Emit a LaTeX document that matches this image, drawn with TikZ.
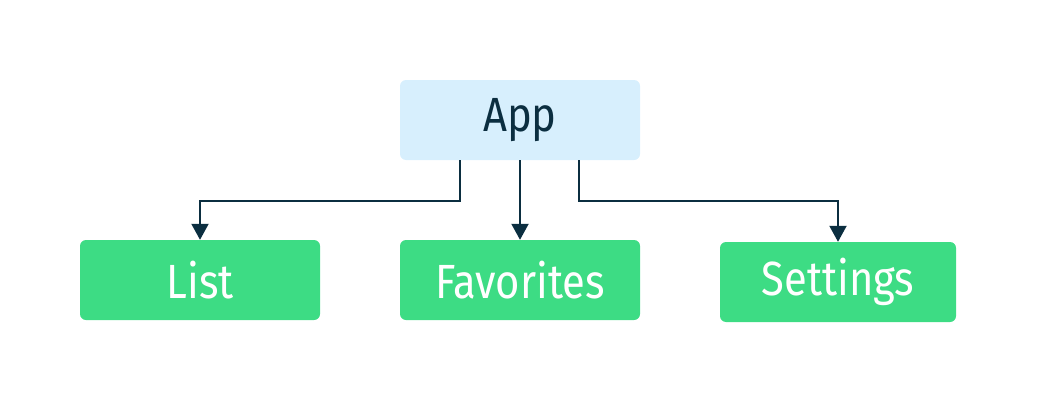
\documentclass[tikz,border=0pt]{standalone}
\usepackage{fontspec}
\setmainfont[FakeStretch=0.87]{Fira Sans}
\usetikzlibrary{arrows.meta}

\definecolor{navy}{HTML}{0B2E40}
\definecolor{appblue}{HTML}{D7EFFD}
\definecolor{droidgreen}{HTML}{3DDC84}

\tikzset{
  box/.style={rounded corners=6pt, minimum height=80pt, inner sep=0pt,
    font=\fontsize{48}{52}\selectfont},
  appbox/.style={box, fill=appblue, text=navy, minimum width=240pt},
  screen/.style={box, fill=droidgreen, text=white, minimum width=240pt},
  arr/.style={draw=navy, line width=2pt, -{Triangle[length=16pt,width=17pt]}}
}

\begin{document}
\begin{tikzpicture}[x=1pt,y=1pt]
          \useasboundingbox (0,0) rectangle (1040,400);
          \node[appbox] (app) at (520,280) {App};
          \node[screen] (list) at (200,120) {List};
          \node[screen] (favorites) at (520,120) {Favorites};
          \node[screen, minimum width=236pt] (settings) at (838,118) {Settings};
          \draw[arr] ([xshift=-60pt]app.south) -- ++(0,-41) -| (list.north);
          \draw[arr] (app.south) -- (favorites.north);
          \draw[arr] ([xshift=59pt]app.south) -- ++(0,-41) -| (settings.north);
        \end{tikzpicture}
\end{document}
